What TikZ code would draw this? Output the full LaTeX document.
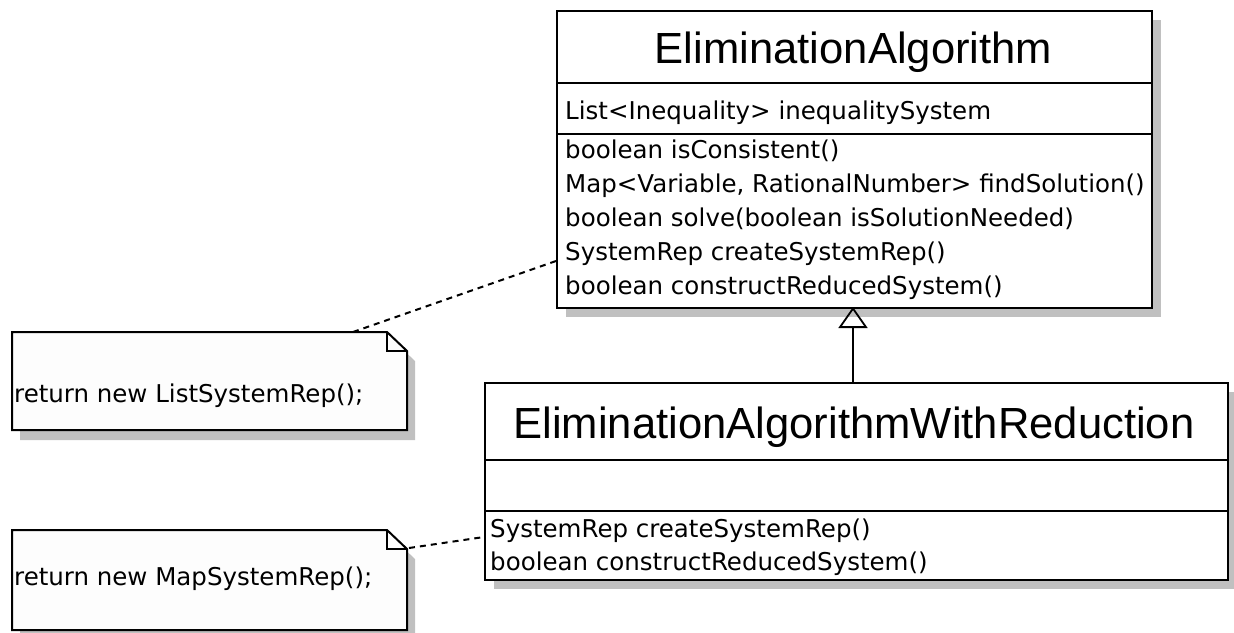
\documentclass[tikz,border=0pt]{standalone}
\usepackage{fontspec}
\usetikzlibrary{arrows.meta,shadows}
\newfontfamily\titlefont{Liberation Sans}
\newfontfamily\memberfont{DejaVu Sans}
\definecolor{shade}{HTML}{C0C0C0}
\definecolor{notefill}{HTML}{FDFDFD}
\tikzset{
  x=1pt, y=-1pt,
  outline/.style={draw=black, line width=2pt},
  divider/.style={draw=black, line width=1.6pt},
  classbox/.style={outline, fill=white, rectangle, inner sep=0pt, anchor=north west,
    drop shadow={shadow xshift=9pt, shadow yshift=-9pt, opacity=1, fill=shade}},
  classname/.style={inner sep=0pt, anchor=base, font=\titlefont\fontsize{43.6}{50}\selectfont},
  member/.style={inner sep=0pt, anchor=base west, font=\memberfont\fontsize{24.5}{30}\selectfont},
  notebody/.style={outline, fill=notefill, line join=miter},
  noteshadow/.style={fill=shade},
  anchorline/.style={draw=black, line width=2pt, dash pattern=on 6pt off 5pt},
  inherit/.style={draw=black, line width=1.8pt, -{Triangle[open, length=21pt, width=29pt, line width=1.8pt]}}
}
\begin{document}
\begin{tikzpicture}
\useasboundingbox (0,0) rectangle (1234,632);

% ---- class EliminationAlgorithm ----
\node[classbox, minimum width=595pt, minimum height=297pt] (base) at (556,10) {};
\draw[divider] (556,83) -- (1151,83);
\draw[divider] (556,134) -- (1151,134);
\node[classname] (basename) at (853.5,63) {EliminationAlgorithm};
\node[member] (attr) at (565,119) {List<Inequality> inequalitySystem};
\node[member] (m1) at (565,158) {boolean isConsistent()};
\node[member] (m2) at (565,192) {Map<Variable, RationalNumber> findSolution()};
\node[member] (m3) at (565,226) {boolean solve(boolean isSolutionNeeded)};
\node[member] (m4) at (565,260) {SystemRep createSystemRep()};
\node[member] (m5) at (565,294) {boolean constructReducedSystem()};

% ---- class EliminationAlgorithmWithReduction ----
\node[classbox, minimum width=743pt, minimum height=197pt] (sub) at (484,382) {};
\draw[divider] (484,460) -- (1227,460);
\draw[divider] (484,511) -- (1227,511);
\node[classname] (subname) at (854,438) {EliminationAlgorithmWithReduction};
\node[member] (s1) at (490,537) {SystemRep createSystemRep()};
\node[member] (s2) at (490,570) {boolean constructReducedSystem()};

% ---- generalization ----
\coordinate (subtop) at (853,382);
\coordinate (basebottom) at (853,307);
\draw[inherit] (subtop) -- (basebottom);

% ---- note on createSystemRep() of the base class ----
\begin{scope}[shift={(8,10)}]
  \fill[noteshadow] (12,332) -- (387,332) -- (407,351) -- (407,430) -- (12,430) -- cycle;
\end{scope}
\draw[notebody] (12,332) -- (387,332) -- (407,351) -- (407,430) -- (12,430) -- cycle;
\draw[outline] (387,332) -- (387,351) -- (407,351);
\node[member] (note1) at (14,402) {return new ListSystemRep();};

% ---- note on createSystemRep() of the subclass ----
\begin{scope}[shift={(8,10)}]
  \fill[noteshadow] (12,530) -- (387,530) -- (407,549) -- (407,630) -- (12,630) -- cycle;
\end{scope}
\draw[notebody] (12,530) -- (387,530) -- (407,549) -- (407,630) -- (12,630) -- cycle;
\draw[outline] (387,530) -- (387,549) -- (407,549);
\node[member] (note2) at (14,585) {return new MapSystemRep();};

% ---- note anchors ----
\coordinate (note1tip) at (353,332);
\coordinate (base4) at (556,261);
\coordinate (note2tip) at (409,548);
\coordinate (sub1) at (484,537);
\draw[anchorline] (note1tip) -- (base4);
\draw[anchorline] (note2tip) -- (sub1);
\end{tikzpicture}
\end{document}
